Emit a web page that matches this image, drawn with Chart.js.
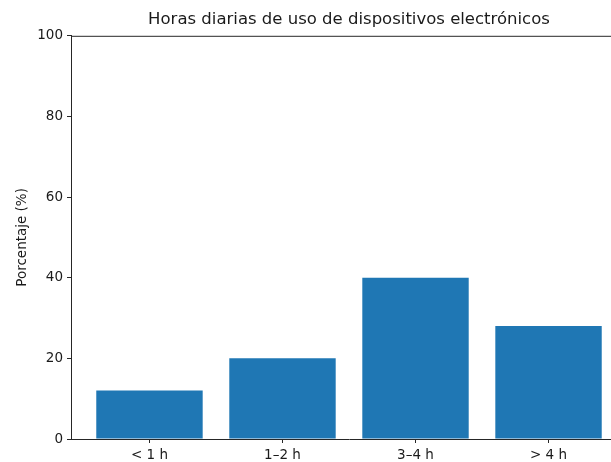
<!DOCTYPE html>
<html><head><meta charset="utf-8">
<script src="https://cdn.jsdelivr.net/npm/chart.js@4"></script>
<style>html,body{margin:0;padding:0;background:#fff;overflow:hidden;width:611px;height:462px}canvas{display:block}</style>
</head><body>
<canvas id="c" width="640" height="462" style="width:640px;height:462px"></canvas>
<script>
const categories = ["< 1 h", "1\u20132 h", "3\u20134 h", "> 4 h"];
const values = [12, 20, 40, 28];
const yTicks = [0, 20, 40, 60, 80, 100];
const titleText = "Horas diarias de uso de dispositivos electrónicos";
const yLabel = "Porcentaje (%)";

const FONT = "'DejaVu Sans', sans-serif";
const AX = "#262626";
const spines = {
  id: "spines",
  afterDraw(chart) {
    const a = chart.chartArea, ctx = chart.ctx;
    ctx.save();
    ctx.strokeStyle = AX; ctx.lineWidth = 1;
    ctx.beginPath();
    ctx.moveTo(a.left, a.top + 0.5); ctx.lineTo(a.right, a.top + 0.5);
    ctx.moveTo(a.right - 0.5, a.top); ctx.lineTo(a.right - 0.5, a.bottom);
    ctx.stroke();
    ctx.restore();
  }
};

new Chart(document.getElementById("c"), {
  type: "bar",
  data: {
    datasets: [{
      data: categories.map((c, i) => ({ x: i, y: values[i] })),
      backgroundColor: "#1f77b4",
      borderWidth: 0,
      barPercentage: 0.8,
      categoryPercentage: 1.0
    }]
  },
  options: {
    responsive: false,
    animation: false,
    devicePixelRatio: 1,
    layout: { padding: { left: 0, right: 13, top: 0, bottom: 0 } },
    plugins: {
      legend: { display: false },
      tooltip: { enabled: false },
      title: {
        display: true, text: titleText, color: "#1a1a1a", fullSize: false,
        font: { family: FONT, size: 16.5, weight: "normal" },
        padding: { top: 10, bottom: 6 }
      }
    },
    scales: {
      x: {
        type: "linear", min: -0.59, max: 3.59, offset: false,
        afterBuildTicks(s) { s.ticks = categories.map((c, i) => ({ value: i })); },
        afterFit(s) { s.height = 23; },
        border: { display: true, color: AX, width: 1 },
        grid: { display: true, offset: false, drawOnChartArea: false, drawTicks: true, tickLength: 4, color: AX },
        ticks: {
          color: "#1a1a1a", font: { family: FONT, size: 13.5 }, padding: 4, maxRotation: 0,
          callback: (v) => categories[v]
        }
      },
      y: {
        min: 0, max: 100,
        afterBuildTicks(s) { s.ticks = yTicks.map(v => ({ value: v })); },
        afterFit(s) { s.width = 71; },
        border: { display: true, color: AX, width: 1 },
        grid: { display: true, drawOnChartArea: false, drawTicks: true, tickLength: 4, color: AX },
        ticks: { color: "#1a1a1a", font: { family: FONT, size: 13.5 }, padding: 4 },
        title: {
          display: true, text: yLabel, color: "#1a1a1a",
          font: { family: FONT, size: 13.5 }, padding: { top: 14, bottom: 0 }
        }
      }
    }
  },
  plugins: [spines]
});
</script>
</body></html>
